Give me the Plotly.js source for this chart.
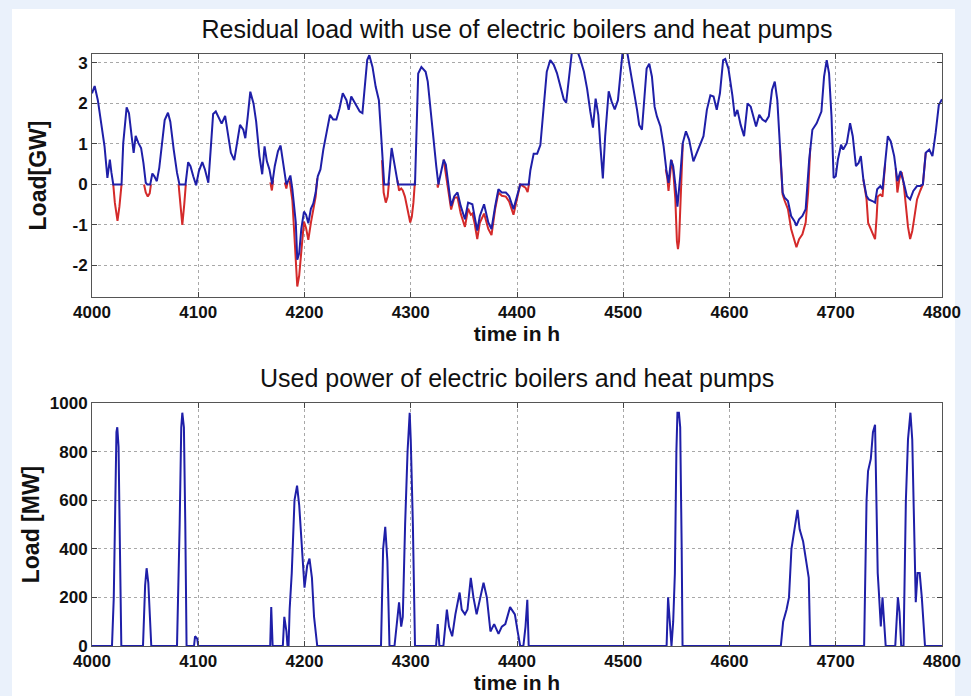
<!DOCTYPE html>
<html>
<head>
<meta charset="utf-8">
<script src="https://cdn.plot.ly/plotly-3.0.1.min.js"></script>
<style>html,body{margin:0;padding:0;background:#eaf1fb;}#chart{width:971px;height:696px;}</style>
</head>
<body>
<div id="chart"></div>
<script>
// ---- Residual load WITH electric boilers and heat pumps (blue), GW ----
const withHours = [4000,4002.5,4005.5,4008.6,4011.8,4014.5,4016.8,4018.3,4020,4027.8,4029.4,4032.6,4034.8,4037.3,4039.2,4041.1,4043.7,4046.2,4048.4,4050.6,4052,4054.8,4056.8,4058.7,4061,4063.3,4065.8,4068.4,4071.5,4073.7,4076.9,4080,4082.3,4088,4090.5,4092.7,4095.3,4098,4100.6,4103.8,4106.3,4109.5,4111.7,4114,4116.5,4119.6,4122,4125.3,4127.6,4130.7,4133.9,4137,4139.3,4142.4,4144.3,4146.6,4149,4152,4154.5,4157.6,4160.2,4162.4,4164.6,4167,4169.6,4172,4175,4177.5,4179.7,4182.9,4184.5,4186.7,4188.6,4191.8,4193.2,4195,4197,4199.5,4201.5,4203.6,4206,4208.3,4210.5,4212.5,4215,4217.7,4221,4224,4227,4230,4233,4236,4239.5,4241.6,4244,4248,4252,4254.5,4257,4259,4261,4264,4267,4270,4272,4274,4275,4279,4282,4285,4288,4304,4305,4307,4310,4314,4316,4319,4322,4324,4326,4329,4331,4333,4336,4338,4341,4344,4347,4351,4354,4358,4360,4362.6,4365,4369,4373,4376,4379.5,4382.5,4385.7,4389.5,4392.6,4396.7,4400,4403,4411,4412.6,4415.7,4419,4422,4425,4428,4431.3,4434.5,4437.6,4441,4444,4446.3,4448.5,4450.3,4452,4456,4459.5,4463,4466,4469,4471.5,4474,4476.5,4478.5,4480.8,4483,4486.3,4489,4492,4495,4497.3,4499.5,4503.5,4506.6,4509.7,4513,4515,4517.6,4520,4522,4524.5,4527,4529.5,4531.7,4535,4538,4540.5,4542.6,4545,4547,4549,4551,4553.6,4556,4559,4562,4566,4569,4572,4575.5,4578.7,4582,4585,4588,4591,4594,4596,4599,4602.7,4605,4607.4,4610.5,4613.7,4617,4620,4622.4,4625,4628,4631,4634,4637,4640,4642.6,4645,4647.6,4650,4652,4655,4658,4661,4663,4665.5,4668.6,4671.7,4675,4678,4682,4686.5,4689,4691.5,4693.7,4696,4698,4700,4702,4705,4707,4710.4,4713.5,4716,4719,4721.5,4723.6,4726,4729,4731,4734.5,4737,4739,4742,4744,4746,4749,4751.8,4755,4758,4761,4764,4767,4770,4773,4776.5,4779.6,4782,4784.7,4788,4791,4794,4797,4799.5,4800];
const withLoad = [2.25,2.43,2.08,1.51,0.94,0.16,0.61,0.29,0,0,1.02,1.9,1.76,1.19,0.78,1.2,1.02,0.9,0.53,0.04,0,0,0.27,0.2,0.08,0.41,0.94,1.59,1.77,1.55,0.86,0.29,0,0,0.55,0.45,0.2,-0.02,0.33,0.55,0.37,0.04,0.86,1.74,1.8,1.64,1.5,1.69,1.27,0.78,0.6,1.06,1.47,1.35,1.14,1.68,2.29,2.0,1.55,0.7,0.25,0.94,0.57,0.37,0,0.45,0.82,0.96,0.61,0,0.08,0.22,-0.12,-0.94,-1.86,-1.7,-1.1,-0.67,-0.75,-0.96,-0.6,-0.47,-0.2,0.2,0.37,0.86,1.31,1.72,1.6,1.6,1.88,2.25,2.08,1.84,2.17,2.0,1.8,1.76,2.41,3.07,3.19,2.9,2.41,2.08,1.27,0.3,0,0,0.9,0.45,0,0,0.86,2.74,2.9,2.78,2.54,1.68,1.02,0.45,0,0.37,0.61,0.49,-0.12,-0.53,-0.29,-0.2,-0.53,-0.86,-0.45,-0.49,-0.78,-1.14,-0.78,-0.49,-0.94,-1.1,-0.53,-0.12,-0.2,-0.2,-0.29,-0.61,-0.29,0,0,0.35,0.76,0.76,0.97,1.85,2.78,3.07,2.96,2.75,2.4,2.1,2.02,2.6,3.1,3.35,3.35,3.1,2.78,2.36,1.8,1.4,2.12,1.72,0.94,0.15,1.2,2.3,2.05,1.85,2.08,2.7,3.3,3.3,2.82,2.41,1.84,1.47,1.35,2.17,2.86,2.98,2.66,1.92,1.68,1.43,0.94,0.37,0.04,0.61,0.45,0,-0.55,0.2,1.02,1.31,1.1,0.57,0.78,0.94,1.19,1.84,2.2,2.17,1.84,2.25,3.07,3.1,2.86,2.2,1.68,1.84,1.47,1.19,2.0,1.92,1.68,1.43,1.72,1.6,1.55,1.68,2.33,2.54,2.08,0.86,-0.2,-0.33,-0.41,-0.78,-0.9,-1.02,-0.86,-0.78,-0.61,0.61,1.35,1.51,1.8,2.66,3.07,2.74,1.68,0.16,0.2,0.61,0.98,0.86,1.02,1.51,1.19,0.45,0.53,0.7,0.12,-0.29,-0.37,-0.41,-0.45,-0.12,-0.04,-0.12,0.45,1.19,1.06,0.7,0.08,0.33,0.04,-0.29,-0.37,-0.16,-0.04,-0.04,0,0.78,0.86,0.7,1.27,1.96,2.08,2.1];

// ---- Residual load WITHOUT them (red), only where it differs; null = gap ----
const withoutHours = [4020,4021.5,4024,4025.8,4027.8,null,4049,4050.6,4052.5,4054.3,4055.5,null,4081.5,4083.3,4085,4086.8,4088.3,null,4167.8,4169.3,4170.5,null,4181.5,4182.9,4184,null,4186,4188.6,4191,4193.2,4195,4197,4199.5,4201.5,4203.6,4206,4208.3,4210.5,4212,null,4273,4274.5,4276.5,4278.3,4279.5,null,4287.5,4289,4291,4292.5,4294.5,4297,4299.5,4301,4302.5,4304,null,4325,4325.5,4326.5,null,4331,4334,4336,4338,4341,4344,4347,4351,4354,4356.5,4358,4360,4362.6,4365,4369,4373,4376,4379.5,4382.5,4385.7,4389.5,4392.6,4396.7,4400,4403,4408,4410,4411.5,null,4540,4541.5,4542.6,4544,4545.5,4547,4549,4550.5,4551.5,4552.5,4553.6,4555,4556,null,4647.6,4650,4652,4655,4658,4661,4663,4665.5,4668.6,4671.7,4674,4676,null,4726,4729,4730.5,4734.5,4737,4738.5,4739.5,4742,4744,4745.5,4746.5,null,4756.5,4758,4760,4762,4764,4766,4768,4770,4772,4773.5,4776.5,4779.6,4782,4784.7];
const withoutLoad = [0,-0.45,-0.9,-0.55,0,null,0,-0.2,-0.3,-0.22,0,null,0,-0.55,-1.0,-0.5,0,null,0.05,-0.15,0.1,null,0.05,-0.1,0.05,null,0.1,-0.4,-1.5,-2.52,-2.25,-1.6,-0.92,-1.08,-1.37,-0.95,-0.6,-0.3,0.15,null,0.6,-0.2,-0.45,-0.3,0.05,null,0.1,-0.15,-0.1,-0.15,-0.3,-0.6,-0.94,-0.8,-0.45,0.1,null,0,-0.08,0.05,null,0.61,0.12,-0.2,-0.62,-0.33,-0.32,-0.72,-1.05,-0.6,-0.75,-0.72,-0.95,-1.35,-0.95,-0.72,-1.1,-1.25,-0.6,-0.2,-0.28,-0.3,-0.42,-0.75,-0.35,0,-0.08,-0.19,0.05,null,0.37,0.15,-0.16,0.3,0.6,0.35,-0.35,-1.4,-1.6,-1.4,-0.7,0.3,1.0,null,0.86,-0.25,-0.41,-0.61,-1.1,-1.39,-1.55,-1.35,-1.23,-0.94,-0.2,0.9,null,0.12,-0.37,-0.95,-1.19,-1.35,-0.8,-0.3,-0.25,-0.3,0.2,0.5,null,0.4,-0.2,0.15,0.3,0,-0.55,-1.05,-1.35,-1.15,-0.9,-0.37,-0.15,0,0.78];

// ---- Used power of electric boilers and heat pumps, MW ----
const powerHours = [4000,4018.8,4020.5,4021.8,4023,4023.8,4025,4026.3,4027.6,4048,4050,4051.4,4053,4055.8,4080,4082.5,4084,4085,4086.5,4087.8,4089,4096,4097,4099,4100,4167.7,4168.7,4170,4179.6,4181,4183,4184,4185,4186,4188,4190.6,4193,4195,4198.5,4200,4202.5,4204.7,4207,4209,4212,4272,4274,4276,4278,4280,4284.7,4289,4291,4292.5,4294.7,4297,4299,4300,4302,4304,4323.8,4325.4,4327,4330.7,4334,4336,4339,4342,4346,4348,4351,4353.4,4356.5,4359,4362,4366,4368.5,4371.6,4375,4378.5,4382.6,4385.7,4389,4393.5,4398,4400.6,4403,4406,4408,4409.7,4411,4540.8,4542.2,4543.8,4545.4,4547,4548.6,4550,4551,4552.4,4553.6,4555,4555.8,4648.3,4650.5,4653.7,4656,4658.3,4661.5,4664,4666,4669.3,4672.5,4674.6,4676,4726.7,4729,4730.4,4733,4735,4737,4739.5,4740.6,4742.4,4744,4745.6,4747,4756,4758.5,4760,4761.6,4763.8,4766,4768,4770.3,4772,4774,4775.3,4777,4779,4781,4784,4800];
const powerMW = [0,0,200,600,880,900,820,400,0,0,250,320,260,0,0,500,900,960,900,500,0,0,40,30,0,0,160,0,0,120,60,0,0,150,300,600,660,580,350,240,330,360,280,120,0,0,400,490,350,0,0,180,80,120,500,800,960,850,500,0,0,90,0,0,150,80,40,130,220,150,130,150,280,200,130,220,260,200,60,90,50,80,90,160,130,60,0,0,80,190,0,0,200,100,0,100,300,800,960,960,900,400,0,0,100,150,200,400,500,560,480,430,340,280,0,0,600,720,770,880,910,300,220,80,200,100,0,0,200,140,0,0,600,850,960,850,500,180,300,300,200,0,0];

const titles = ['Residual load with use of electric boilers and heat pumps', 'Used power of electric boilers and heat pumps'];
const xTitle = 'time in h';
const yTitles = ['Load[GW]', 'Load [MW]'];
const gwTicks = [-2, -1, 0, 1, 2, 3];
const gwTickText = ['-2', '-1', '0', '1', '2', '3'];
const mwTicks = [0, 200, 400, 600, 800, 1000];
const hourTicks = [4000, 4100, 4200, 4300, 4400, 4500, 4600, 4700, 4800];

const FONT = 'Liberation Sans, Arial, Helvetica, sans-serif';
const BLUE = '#1f1fa8';
const RED = '#d42a2a';

const traces = [
  {x: withoutHours, y: withoutLoad, xaxis: 'x', yaxis: 'y', type: 'scatter', mode: 'lines',
   line: {color: RED, width: 2}, connectgaps: false, hoverinfo: 'skip'},
  {x: withHours, y: withLoad, xaxis: 'x', yaxis: 'y', type: 'scatter', mode: 'lines',
   line: {color: BLUE, width: 2}},
  {x: powerHours, y: powerMW, xaxis: 'x2', yaxis: 'y2', type: 'scatter', mode: 'lines',
   line: {color: BLUE, width: 2}}
];

function xax(anchor) {
  return {
    anchor: anchor, domain: [0, 1], range: [4000, 4800],
    tickmode: 'array', tickvals: hourTicks, ticktext: hourTicks.map(String),
    ticks: 'inside', ticklen: 5, tickcolor: '#444', showline: true, mirror: 'ticks',
    linecolor: '#555', linewidth: 1, showgrid: true, gridcolor: '#a8a8a8', griddash: 'dot',
    gridwidth: 1, zeroline: false,
    tickfont: {family: FONT, size: 17, color: '#111', weight: 'bold'},
    title: {text: xTitle, font: {family: FONT, size: 21, color: '#111', weight: 'bold'}, standoff: 2}
  };
}
function yax(anchor, domain, range, vals, text, title, standoff) {
  return {
    anchor: anchor, domain: domain, range: range,
    tickmode: 'array', tickvals: vals, ticktext: text,
    ticks: 'inside', ticklen: 5, tickcolor: '#444', showline: true, mirror: 'ticks',
    linecolor: '#555', linewidth: 1, showgrid: true, gridcolor: '#a8a8a8', griddash: 'dot',
    gridwidth: 1, zeroline: false,
    tickfont: {family: FONT, size: 17, color: '#111', weight: 'bold'},
    title: {text: title, font: {family: FONT, size: 23, color: '#111', weight: 'bold'}, standoff: standoff}
  };
}

const layout = {
  width: 971, height: 696,
  margin: {l: 92, r: 29, t: 54, b: 50},
  paper_bgcolor: '#eaf1fb', plot_bgcolor: '#ffffff',
  showlegend: false,
  font: {family: FONT, color: '#111'},
  title: {text: titles[0], x: 0.5, xref: 'paper', y: 1 - 29/696, yref: 'container', yanchor: 'middle',
          font: {family: FONT, size: 25, color: '#111'}},
  xaxis: xax('y'),
  yaxis: yax('x', [0.5895, 1], [-2.78, 3.22], gwTicks, gwTickText, yTitles[0], 19),
  xaxis2: xax('y2'),
  yaxis2: yax('x2', [0, 0.4105], [0, 1000], mwTicks, mwTicks.map(String), yTitles[1], 3),
  annotations: [
    {text: titles[1], xref: 'paper', yref: 'paper', x: 0.5, y: 1 - (378 - 54)/592,
     xanchor: 'center', yanchor: 'middle', showarrow: false,
     font: {family: FONT, size: 25, color: '#111'}}
  ],
  shapes: [
    {type: 'rect', xref: 'paper', yref: 'paper', x0: -0.0941, x1: 1.0153, y0: -0.0845, y1: 1.076,
     fillcolor: '#ffffff', line: {width: 0}, layer: 'below'}
  ]
};

Plotly.newPlot('chart', traces, layout, {displayModeBar: false, staticPlot: true});
</script>
</body>
</html>
